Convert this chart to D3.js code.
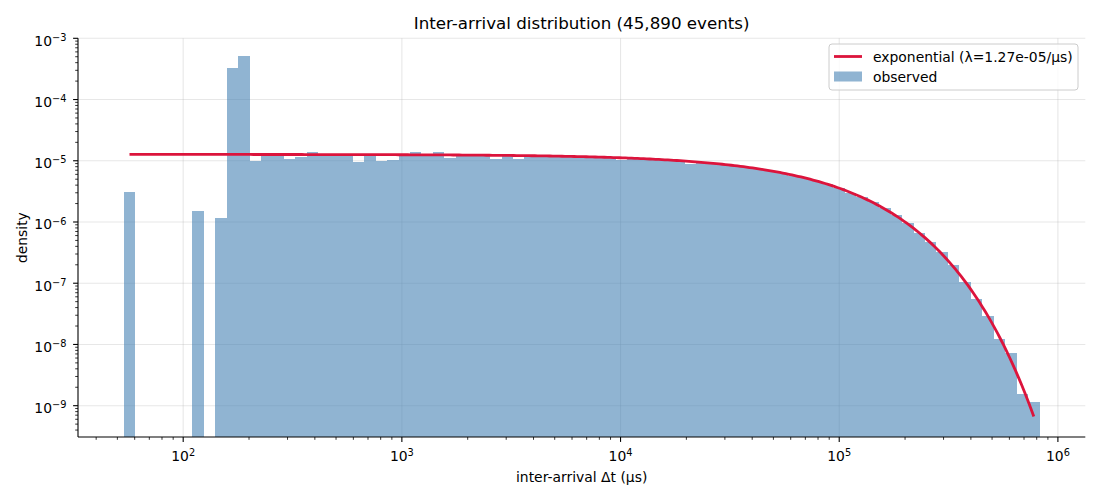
<!DOCTYPE html>
<html lang="en">
<head>
    <meta charset="UTF-8">
    <title>Inter-arrival distribution</title>
    <script src="https://d3js.org/d3.v7.min.js"></script>
    <style>
        body { margin: 0; background: #fff; }
        svg { font-family: "DejaVu Sans", sans-serif; }
    </style>
</head>
<body>
    <svg></svg>
    <script>
        // histogram: 80 log-spaced bins between these two edges (μs)
        const binRange = [53.5, 824000];
        // observed density per bin (0 = empty bin)
        const density = [
            3.1e-6, 0, 0, 0, 0, 0, 1.5e-6, 0, 1.16e-6, 3.27e-4,
            5.1e-4, 9.9e-6, 1.22e-5, 1.22e-5, 1.07e-5, 1.15e-5, 1.38e-5, 1.26e-5, 1.25e-5, 1.25e-5,
            9.7e-6, 1.2e-5, 9.9e-6, 1.02e-5, 1.21e-5, 1.37e-5, 1.26e-5, 1.37e-5, 1.12e-5, 1.21e-5,
            1.22e-5, 1.2e-5, 1.08e-5, 1.18e-5, 1.08e-5, 1.19e-5, 1.2e-5, 1.18e-5, 1.19e-5, 1.16e-5,
            1.15e-5, 1.1e-5, 1.14e-5, 1.03e-5, 1.09e-5, 1.07e-5, 1.05e-5, 1.03e-5, 9.9e-6, 8.9e-6,
            9.35e-6, 9.0e-6, 8.6e-6, 8.3e-6, 7.8e-6, 7.3e-6, 6.8e-6, 6.3e-6, 5.6e-6, 5.2e-6,
            4.65e-6, 4.1e-6, 3.6e-6, 3.0e-6, 2.55e-6, 2.1e-6, 1.67e-6, 1.3e-6, 9.6e-7, 6.7e-7,
            4.65e-7, 3.2e-7, 2.0e-7, 1.05e-7, 5.5e-8, 2.9e-8, 1.23e-8, 7.2e-9, 1.55e-9, 1.15e-9
        ];
        // fitted exponential rate (per μs)
        const lambda = 1.27e-5;
        const xTicks = [1e2, 1e3, 1e4, 1e5, 1e6];
        const yTicks = [1e-9, 1e-8, 1e-7, 1e-6, 1e-5, 1e-4, 1e-3];
        const yLimits = [3.08e-10, 1e-3];

        const width = 1100, height = 500;
        const plot = { left: 78, right: 1085.3, top: 38.3, bottom: 437 };
        const svg = d3.select("svg").attr("width", width).attr("height", height);

        // bin edges (numpy logspace style)
        const nBins = density.length;
        const lo = Math.log10(binRange[0]), hi = Math.log10(binRange[1]);
        const edges = d3.range(nBins + 1).map(i => Math.pow(10, lo + (hi - lo) * i / nBins));
        const centers = d3.range(nBins).map(i => Math.sqrt(edges[i] * edges[i + 1]));

        // 5% margins like matplotlib autoscale
        const pad = (hi - lo) * 0.05;
        const x = d3.scaleLog().domain([Math.pow(10, lo - pad), Math.pow(10, hi + pad)]).range([plot.left, plot.right]);
        const y = d3.scaleLog().domain(yLimits).range([plot.bottom, plot.top]);

        const minorTicks = (scale) => {
            const [d0, d1] = scale.domain();
            const out = [];
            for (let k = Math.floor(Math.log10(d0)); k <= Math.ceil(Math.log10(d1)); k++) {
                for (let m = 2; m <= 9; m++) {
                    const v = m * Math.pow(10, k);
                    if (v >= d0 && v <= d1) out.push(v);
                }
            }
            return out;
        };

        // grid
        const grid = svg.append("g").attr("stroke", "#b0b0b0").attr("stroke-opacity", 0.3).attr("stroke-width", 1.1);
        grid.selectAll(".gx").data(xTicks).enter().append("line")
            .attr("x1", d => x(d)).attr("x2", d => x(d)).attr("y1", plot.top).attr("y2", plot.bottom);
        grid.selectAll(".gy").data(yTicks).enter().append("line")
            .attr("x1", plot.left).attr("x2", plot.right).attr("y1", d => y(d)).attr("y2", d => y(d));

        // bars
        const bins = density.map((v, i) => ({ x0: edges[i], x1: edges[i + 1], v })).filter(d => d.v > 0);
        svg.append("g").selectAll("rect").data(bins).enter().append("rect")
            .attr("x", d => x(d.x0))
            .attr("width", d => x(d.x1) - x(d.x0))
            .attr("y", d => y(d.v))
            .attr("height", d => plot.bottom - y(d.v))
            .attr("fill", "steelblue")
            .attr("fill-opacity", 0.6)
            .attr("shape-rendering", "crispEdges");

        // exponential pdf from first to last bin centre
        const cLo = Math.log10(centers[0]), cHi = Math.log10(centers[nBins - 1]);
        const curveX = d3.range(300).map(i => Math.pow(10, cLo + (cHi - cLo) * i / 299));
        const line = d3.line().x(t => x(t)).y(t => y(lambda * Math.exp(-lambda * t)));
        svg.append("path").datum(curveX)
            .attr("d", line)
            .attr("fill", "none")
            .attr("stroke", "crimson")
            .attr("stroke-width", 2.8);

        // spines
        svg.append("line").attr("x1", plot.left).attr("x2", plot.left).attr("y1", plot.top).attr("y2", plot.bottom)
            .attr("stroke", "black").attr("stroke-width", 1.1);
        svg.append("line").attr("x1", plot.left).attr("x2", plot.right).attr("y1", plot.bottom).attr("y2", plot.bottom)
            .attr("stroke", "black").attr("stroke-width", 1.1);

        // ticks
        const ticks = svg.append("g").attr("stroke", "black");
        ticks.selectAll(".mx").data(xTicks).enter().append("line")
            .attr("x1", d => x(d)).attr("x2", d => x(d)).attr("y1", plot.bottom).attr("y2", plot.bottom + 4.9)
            .attr("stroke-width", 1.1);
        ticks.selectAll(".nx").data(minorTicks(x)).enter().append("line")
            .attr("x1", d => x(d)).attr("x2", d => x(d)).attr("y1", plot.bottom).attr("y2", plot.bottom + 2.8)
            .attr("stroke-width", 0.8);
        ticks.selectAll(".my").data(yTicks).enter().append("line")
            .attr("y1", d => y(d)).attr("y2", d => y(d)).attr("x1", plot.left).attr("x2", plot.left - 4.9)
            .attr("stroke-width", 1.1);
        ticks.selectAll(".ny").data(minorTicks(y)).enter().append("line")
            .attr("y1", d => y(d)).attr("y2", d => y(d)).attr("x1", plot.left).attr("x2", plot.left - 2.8)
            .attr("stroke-width", 0.8);

        const expLabel = (sel) => {
            sel.text("10");
            sel.append("tspan")
                .attr("font-size", "9.8px")
                .attr("dy", "-0.5em")
                .text(d => String(Math.round(Math.log10(d))).replace("-", "\u2212"));
        };

        svg.append("g").selectAll("text").data(xTicks).enter().append("text")
            .attr("x", d => x(d)).attr("y", plot.bottom + 24)
            .attr("text-anchor", "middle")
            .attr("font-size", "13.9px")
            .call(expLabel);

        svg.append("g").selectAll("text").data(yTicks).enter().append("text")
            .attr("x", plot.left - 11.5).attr("y", d => y(d) + 7.5)
            .attr("text-anchor", "end")
            .attr("font-size", "13.9px")
            .call(expLabel);

        // labels
        svg.append("text").attr("x", (plot.left + plot.right) / 2).attr("y", 29)
            .attr("text-anchor", "middle").attr("font-size", "16.7px")
            .text("Inter-arrival distribution (45,890 events)");
        svg.append("text").attr("x", (plot.left + plot.right) / 2).attr("y", 482)
            .attr("text-anchor", "middle").attr("font-size", "13.9px")
            .text("inter-arrival \u0394t (\u03bcs)");
        svg.append("text")
            .attr("transform", `translate(27,${(plot.top + plot.bottom) / 2}) rotate(-90)`)
            .attr("text-anchor", "middle").attr("font-size", "13.9px")
            .text("density");

        // legend
        const legend = svg.append("g");
        legend.append("rect").attr("x", 829).attr("y", 44).attr("width", 249).attr("height", 46)
            .attr("rx", 3).attr("fill", "white").attr("fill-opacity", 0.8)
            .attr("stroke", "#cccccc").attr("stroke-width", 1);
        legend.append("line").attr("x1", 834).attr("x2", 862).attr("y1", 56.5).attr("y2", 56.5)
            .attr("stroke", "crimson").attr("stroke-width", 2.8);
        legend.append("rect").attr("x", 834).attr("y", 71.5).attr("width", 28).attr("height", 10)
            .attr("fill", "steelblue").attr("fill-opacity", 0.6);
        legend.append("text").attr("x", 873).attr("y", 61.5).attr("font-size", "13.9px")
            .text("exponential (\u03bb=1.27e-05/\u03bcs)");
        legend.append("text").attr("x", 873).attr("y", 81.5).attr("font-size", "13.9px")
            .text("observed");
    </script>
</body>
</html>
